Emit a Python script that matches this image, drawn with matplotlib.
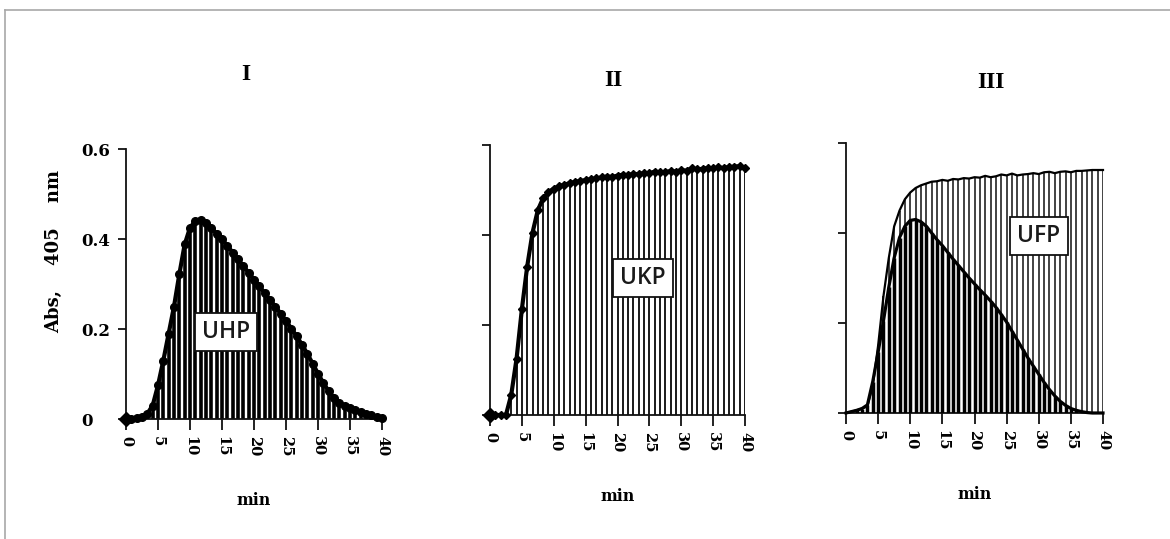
import numpy as np
import matplotlib
matplotlib.use("Agg")
import matplotlib.pyplot as plt
from matplotlib.lines import Line2D

W, H, DPI = 1170, 539, 100

# readings every 50 s over 40 min
STEP_MIN = 5 / 6
minutes = np.arange(49) * STEP_MIN

# I: UHP substrate
uhp_I = [0.0, 0.0, 0.002, 0.005, 0.012, 0.03, 0.075, 0.13, 0.19, 0.25,
         0.322, 0.388, 0.425, 0.44, 0.442, 0.435, 0.425, 0.412, 0.40, 0.385,
         0.37, 0.355, 0.34, 0.325, 0.31, 0.295, 0.28, 0.265, 0.25, 0.234,
         0.218, 0.201, 0.184, 0.165, 0.145, 0.123, 0.101, 0.08, 0.062, 0.047,
         0.036, 0.029, 0.024, 0.02, 0.016, 0.012, 0.008, 0.005, 0.003]

# II: UKP substrate
ukp_II = [0.0, 0.0, 0.0, 0.0, 0.045, 0.125, 0.235, 0.33, 0.405, 0.455,
          0.482, 0.495, 0.503, 0.508, 0.512, 0.515, 0.518, 0.52, 0.522, 0.524,
          0.526, 0.528, 0.53, 0.529, 0.532, 0.534, 0.533, 0.536, 0.535, 0.538,
          0.537, 0.541, 0.539, 0.54, 0.542, 0.541, 0.544, 0.543, 0.548, 0.546,
          0.547, 0.549, 0.548, 0.55, 0.549, 0.551, 0.552, 0.553, 0.548]

# III: UFP, UKP and UHP overlaid
ukp_III = [0.0, 0.003, 0.006, 0.01, 0.015, 0.06, 0.15, 0.26, 0.345, 0.415,
           0.45, 0.475, 0.49, 0.5, 0.506, 0.51, 0.514, 0.515, 0.518, 0.516,
           0.52, 0.519, 0.522, 0.521, 0.524, 0.523, 0.527, 0.524, 0.526, 0.53,
           0.528, 0.532, 0.528, 0.53, 0.531, 0.533, 0.531, 0.535, 0.536, 0.533,
           0.536, 0.537, 0.535, 0.538, 0.538, 0.539, 0.54, 0.54, 0.54]
uhp_III = [0.0, 0.003, 0.006, 0.01, 0.018, 0.07, 0.135, 0.205, 0.28, 0.345,
           0.39, 0.415, 0.428, 0.43, 0.425, 0.415, 0.40, 0.385, 0.372, 0.357,
           0.342, 0.328, 0.314, 0.30, 0.287, 0.274, 0.262, 0.249, 0.235, 0.219,
           0.202, 0.182, 0.162, 0.142, 0.122, 0.104, 0.086, 0.068, 0.052, 0.038,
           0.026, 0.017, 0.01, 0.006, 0.003, 0.001, 0.0, 0.0, 0.0]

x_ticks = [0, 5, 10, 15, 20, 25, 30, 35, 40]
y_ticks = [0, 0.2, 0.4, 0.6]
y_tick_labels = ["0", "0.2", "0.4", "0.6"]
panel_titles = ["I", "II", "III"]
box_labels = ["UHP", "UKP", "UFP"]
x_label = "min"
y_label = "Abs,    405    nm"

SERIF = "DejaVu Serif"


def fx(px):
    return px / W


def fy(py):
    return 1 - py / H


def rect(x0, x1, y_bottom, y_top):
    return [fx(x0), fy(y_bottom), (x1 - x0) / W, (y_bottom - y_top) / H]


fig = plt.figure(figsize=(W / DPI, H / DPI), dpi=DPI)
fig.patch.set_facecolor("white")

axes = [
    fig.add_axes(rect(126, 382, 419, 149)),
    fig.add_axes(rect(490, 745, 415, 145)),
    fig.add_axes(rect(846, 1103, 413, 143)),
]

for i, ax in enumerate(axes):
    ax.set_xlim(0, 40)
    ax.set_ylim(0, 0.6)
    ax.patch.set_alpha(0)
    for s in ("top", "right"):
        ax.spines[s].set_visible(False)
    for s in ("left", "bottom"):
        ax.spines[s].set_linewidth(1.3)
        ax.spines[s].set_color("#111111")
    ax.set_xticks(x_ticks)
    ax.set_xticklabels([str(v) for v in x_ticks], rotation=-90,
                       fontfamily=SERIF, fontweight="bold", fontsize=10.5)
    ax.tick_params(axis="x", direction="out", length=8, width=1.3, pad=4,
                   color="#111111")
    ax.set_yticks(y_ticks)
    ax.tick_params(axis="y", direction="out", length=6, width=1.3,
                   color="#111111")
    if i == 0:
        ax.set_yticklabels(y_tick_labels, fontfamily=SERIF, fontweight="bold",
                           fontsize=12)
        ax.tick_params(axis="y", pad=26)
        for lbl in ax.get_yticklabels():
            lbl.set_horizontalalignment("left")
        ax.set_ylabel(y_label, fontfamily=SERIF, fontweight="bold", fontsize=13)
        ax.yaxis.set_label_coords(-0.28, 0.62)
        ax.yaxis.label.set_va("center")
    else:
        ax.set_yticklabels([])
    ax.set_xlabel(x_label, fontfamily=SERIF, fontweight="bold", fontsize=11.5,
                  labelpad=26)

# I
ax = axes[0]
ax.vlines(minutes, 0, uhp_I, colors="black", linewidth=2.6, zorder=2)
ax.plot(minutes[1:], uhp_I[1:], "-o", color="black", linewidth=3.0,
        markersize=5.5, clip_on=False, zorder=4)
ax.plot(minutes[:1], uhp_I[:1], "D", color="black", markersize=7.5,
        clip_on=False, zorder=5)

# II
ax = axes[1]
ax.vlines(minutes, 0, ukp_II, colors="#1a1a1a", linewidth=1.4, zorder=2)
ax.plot(minutes, ukp_II, "-D", color="black", linewidth=3.0, markersize=4.5,
        clip_on=False, zorder=4)
ax.plot(minutes[:1], ukp_II[:1], "D", color="black", markersize=7,
        clip_on=False, zorder=5)

# III
ax = axes[2]
ax.vlines(minutes, 0, ukp_III, colors="#222222", linewidth=1.2, zorder=2)
ax.vlines(minutes, 0, uhp_III, colors="black", linewidth=2.5, zorder=3)
ax.plot(minutes, ukp_III, "-", color="black", linewidth=1.6, clip_on=False,
        zorder=4)
ax.plot(minutes, uhp_III, "-", color="black", linewidth=2.3, clip_on=False,
        zorder=4)

# panel titles
for title, (px, py) in zip(panel_titles, [(246, 75), (613, 80), (991, 82)]):
    fig.text(fx(px), fy(py), title, ha="center", va="center",
             fontfamily="Liberation Serif", fontweight="bold", fontsize=17)

# substrate tags
for tag, (px, py) in zip(box_labels, [(226, 332), (643, 278), (1039, 236)]):
    fig.text(fx(px), fy(py), tag, ha="center", va="center",
             fontfamily="Open Sans", fontweight=600, fontsize=16.5,
             color="#1a1a1a", zorder=10,
             bbox=dict(boxstyle="square,pad=0.32", fc="white", ec="#111111",
                       lw=1.3))

# thin outer frame (top and left)
frame_kw = dict(color="#a8a8a8", linewidth=1.2, transform=fig.transFigure)
fig.add_artist(Line2D([fx(5), fx(5)], [0, fy(10)], **frame_kw))
fig.add_artist(Line2D([fx(5), 1], [fy(10), fy(10)], **frame_kw))

fig.savefig("out.png", dpi=DPI, facecolor="white")
